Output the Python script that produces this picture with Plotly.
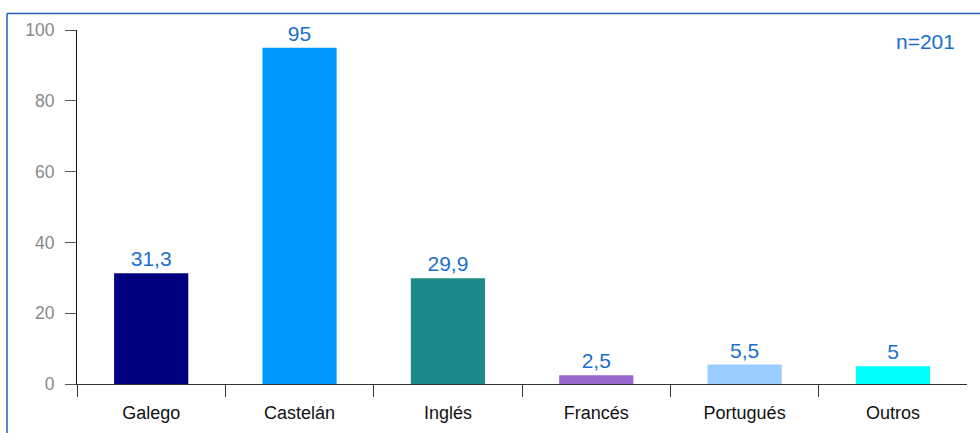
import plotly.graph_objects as go

categories = ["Galego", "Castelán", "Inglés", "Francés", "Portugués", "Outros"]
values = [31.3, 95, 29.9, 2.5, 5.5, 5]
value_labels = ["31,3", "95", "29,9", "2,5", "5,5", "5"]
bar_colors = ["#000080", "#0099ff", "#1a8a8a", "#9966cc", "#99ccff", "#00ffff"]
y_ticks = [0, 20, 40, 60, 80, 100]

FONT = "Liberation Sans, Arial, sans-serif"
LABEL_BLUE = "#1a6fcf"

W, H = 980, 433
L, R, T, B = 77, 13, 29.5, 48.7
pw, ph = W - L - R, H - T - B

def px_x(x):
    return (x - L) / pw

def px_y(y):
    return (H - B - y) / ph

fig = go.Figure()
fig.add_trace(go.Bar(
    x=categories, y=values,
    marker=dict(color=bar_colors, line=dict(width=0)),
    width=0.5,
    text=value_labels, textposition="outside",
    textfont=dict(family=FONT, size=21, color=LABEL_BLUE),
    cliponaxis=False,
    hoverinfo="skip",
))

fig.update_layout(
    width=W, height=H,
    margin=dict(l=L, r=R, t=T, b=B, pad=0, autoexpand=False),
    plot_bgcolor="white", paper_bgcolor="white",
    showlegend=False,
    font=dict(family=FONT),
    xaxis=dict(
        type="category",
        tickson="boundaries",
        ticks="outside", ticklen=12, tickcolor="#333333", tickwidth=1,
        showline=True, linecolor="#333333", linewidth=1,
        showgrid=False,
        tickfont=dict(family=FONT, size=18, color="#111111"),
        ticklabelstandoff=12,
        range=[-0.5, 5.499],
    ),
    yaxis=dict(
        range=[0, 100],
        tickvals=y_ticks,
        ticks="outside", ticklen=11, tickcolor="#555555", tickwidth=1,
        showline=True, linecolor="#111111", linewidth=1,
        showgrid=False, zeroline=False,
        tickfont=dict(family=FONT, size=17.5, color="#888888"),
        ticklabelstandoff=7,
    ),
)

# outer frame (blue)
fig.add_shape(type="line", xref="paper", yref="paper",
              x0=px_x(7), x1=px_x(990), y0=px_y(13), y1=px_y(13),
              line=dict(color="#1f5fb4", width=1.5))
fig.add_shape(type="line", xref="paper", yref="paper",
              x0=px_x(7), x1=px_x(7), y0=px_y(13), y1=px_y(445),
              line=dict(color="#1f5fb4", width=1.5))

fig.add_annotation(text="n=201", xref="paper", yref="paper",
                   x=px_x(957), y=px_y(41), xanchor="right", yanchor="middle",
                   showarrow=False,
                   font=dict(family=FONT, size=21, color=LABEL_BLUE))

fig.write_html("out.html",
               config={"displayModeBar": False},
               post_script="document.body.style.margin='0px';document.body.style.overflow='hidden';")
